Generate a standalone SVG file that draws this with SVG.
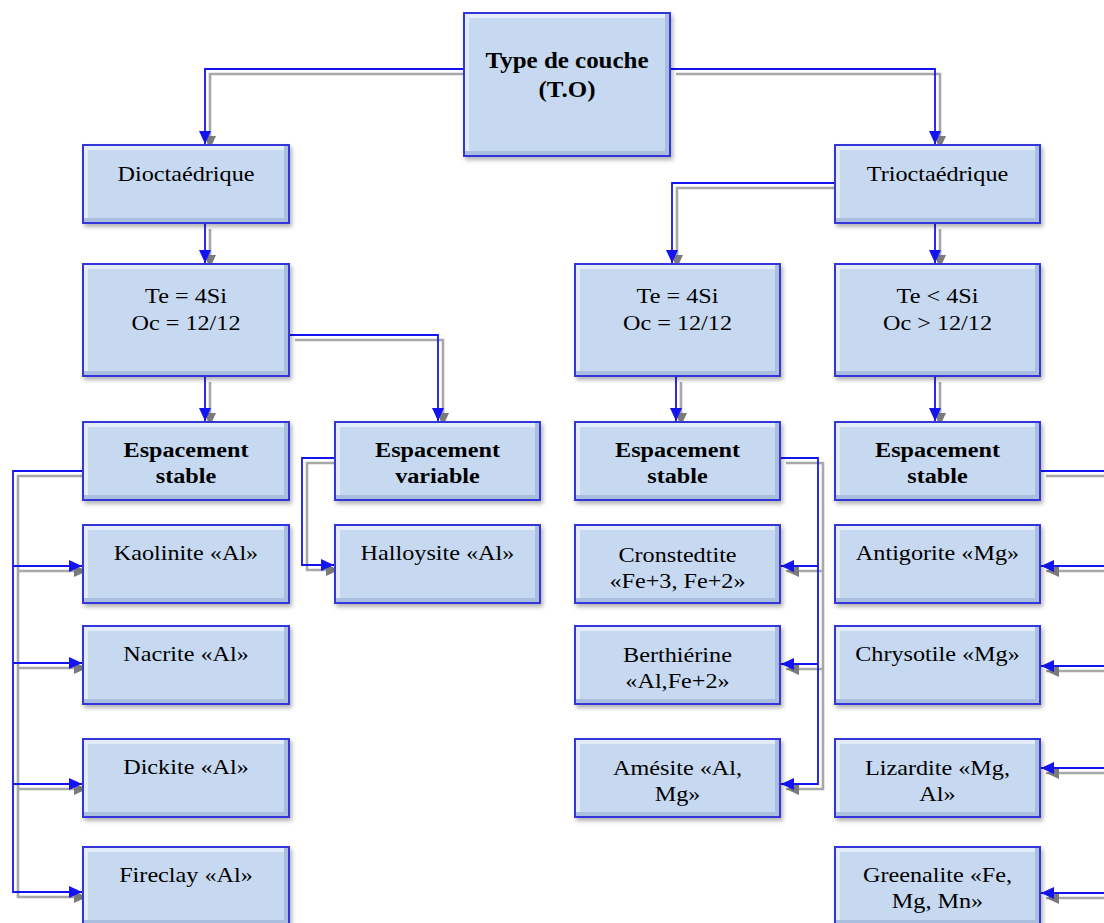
<svg xmlns="http://www.w3.org/2000/svg" xmlns:xlink="http://www.w3.org/1999/xlink" width="1104" height="923" viewBox="0 0 1104 923">
  <defs>
    <style>
      .box { fill: #c6d9f1; filter: url(#bevel); }
      .lbl { font-family: "Liberation Serif", "Times New Roman", serif; font-size: 22px; fill: #000; text-anchor: middle;
             transform-box: fill-box; transform-origin: center; transform: scaleX(1.1); }
      .b { font-weight: bold; }
      .big { font-size: 24px; transform: scaleX(1.04); }
      .wire { fill: none; stroke: #1414f0; stroke-width: 1.8; }
      .wire.tip { marker-end: url(#arrowBlue); }
      .shade { fill: none; stroke: #a8a8a8; stroke-width: 2.6; }
      .shade.tip { marker-end: url(#arrowGray); }
    </style>
    <marker id="arrowBlue" markerUnits="userSpaceOnUse" markerWidth="14" markerHeight="14" refX="13" refY="7" orient="auto">
      <path d="M0,1 L13,7 L0,13 Z" fill="#1414f0"/>
    </marker>
    <marker id="arrowGray" markerUnits="userSpaceOnUse" markerWidth="14" markerHeight="14" refX="13" refY="7" orient="auto">
      <path d="M0,1 L13,7 L0,13 Z" fill="#7a7a7a"/>
    </marker>
    <!-- bevelled face: light top/left edge, dark bottom/right edge, blue frame, soft drop shadow -->
    <filter id="bevel" x="-0.06" y="-0.08" width="1.14" height="1.2" color-interpolation-filters="sRGB">
      <feGaussianBlur in="SourceAlpha" stdDeviation="2.2" result="blur"/>
      <feOffset in="blur" dx="2" dy="3" result="sh"/>
      <feFlood flood-color="#000" flood-opacity="0.3"/>
      <feComposite in2="sh" operator="in" result="shadow"/>
      <feOffset in="SourceAlpha" dx="-6" dy="-6" result="ul"/>
      <feComposite in="SourceAlpha" in2="ul" operator="out" result="brEdge"/>
      <feFlood flood-color="#a9bfdd"/>
      <feComposite in2="brEdge" operator="in" result="dark"/>
      <feOffset in="SourceAlpha" dx="6" dy="6" result="dr"/>
      <feComposite in="SourceAlpha" in2="dr" operator="out" result="tlEdge"/>
      <feFlood flood-color="#e3ecf9"/>
      <feComposite in2="tlEdge" operator="in" result="light"/>
      <feMorphology in="SourceAlpha" operator="erode" radius="2" result="inner"/>
      <feComposite in="SourceAlpha" in2="inner" operator="out" result="ring"/>
      <feFlood flood-color="#3535dc"/>
      <feComposite in2="ring" operator="in" result="frame"/>
      <feMerge>
        <feMergeNode in="shadow"/>
        <feMergeNode in="SourceGraphic"/>
        <feMergeNode in="light"/>
        <feMergeNode in="dark"/>
        <feMergeNode in="frame"/>
      </feMerge>
    </filter>
    <!-- connector routes, drawn twice: grey offset shadow, then blue line -->
    <path id="w1" d="M463,69 H205 V144"/>
    <path id="w2" d="M671,69 H935 V144"/>
    <path id="w3" d="M205,224 V263"/>
    <path id="w4" d="M205,377 V421"/>
    <path id="w5" d="M290,335 H438 V421"/>
    <path id="w6" d="M834,183 H672 V263"/>
    <path id="w7" d="M935,224 V263"/>
    <path id="w8" d="M676,377 V421"/>
    <path id="w9" d="M935,377 V421"/>
    <path id="w10" d="M82,471 H13 V892 H82"/>
    <path id="w11" d="M13,566 H82"/>
    <path id="w12" d="M13,663 H82"/>
    <path id="w13" d="M13,784 H82"/>
    <path id="w14" d="M334,458 H302 V565 H334"/>
    <path id="w15" d="M781,458 H818 V784 H781"/>
    <path id="w16" d="M818,566 H781"/>
    <path id="w17" d="M818,664 H781"/>
    <path id="w18" d="M1041,471 H1110"/>
    <path id="w19" d="M1110,566 H1041"/>
    <path id="w20" d="M1110,666 H1041"/>
    <path id="w21" d="M1110,768 H1041"/>
    <path id="w22" d="M1110,893 H1041"/>
  </defs>

  <rect width="1104" height="923" fill="#fff"/>

  <g id="connectors">
    <g transform="translate(5,5)">
      <use class="shade tip" href="#w1"/>
      <use class="shade tip" href="#w2"/>
      <use class="shade tip" href="#w3"/>
      <use class="shade tip" href="#w4"/>
      <use class="shade tip" href="#w5"/>
      <use class="shade tip" href="#w6"/>
      <use class="shade tip" href="#w7"/>
      <use class="shade tip" href="#w8"/>
      <use class="shade tip" href="#w9"/>
      <use class="shade tip" href="#w10"/>
      <use class="shade tip" href="#w11"/>
      <use class="shade tip" href="#w12"/>
      <use class="shade tip" href="#w13"/>
      <use class="shade tip" href="#w14"/>
      <use class="shade tip" href="#w15"/>
      <use class="shade tip" href="#w16"/>
      <use class="shade tip" href="#w17"/>
      <use class="shade" href="#w18"/>
      <use class="shade tip" href="#w19"/>
      <use class="shade tip" href="#w20"/>
      <use class="shade tip" href="#w21"/>
      <use class="shade tip" href="#w22"/>
    </g>
    <g>
      <use class="wire tip" href="#w1"/>
      <use class="wire tip" href="#w2"/>
      <use class="wire tip" href="#w3"/>
      <use class="wire tip" href="#w4"/>
      <use class="wire tip" href="#w5"/>
      <use class="wire tip" href="#w6"/>
      <use class="wire tip" href="#w7"/>
      <use class="wire tip" href="#w8"/>
      <use class="wire tip" href="#w9"/>
      <use class="wire tip" href="#w10"/>
      <use class="wire tip" href="#w11"/>
      <use class="wire tip" href="#w12"/>
      <use class="wire tip" href="#w13"/>
      <use class="wire tip" href="#w14"/>
      <use class="wire tip" href="#w15"/>
      <use class="wire tip" href="#w16"/>
      <use class="wire tip" href="#w17"/>
      <use class="wire" href="#w18"/>
      <use class="wire tip" href="#w19"/>
      <use class="wire tip" href="#w20"/>
      <use class="wire tip" href="#w21"/>
      <use class="wire tip" href="#w22"/>
    </g>
  </g>

  <g id="type-couche">
    <rect class="box" x="463" y="12" width="208" height="145"/>
    <text class="lbl b big" x="567" y="68">Type de couche</text>
    <text class="lbl b big" x="567" y="97">(T.O)</text>
  </g>
  <g id="dioctaedrique">
    <rect class="box" x="82" y="144" width="208" height="80"/>
    <text class="lbl" x="186" y="181">Dioctaédrique</text>
  </g>
  <g id="trioctaedrique">
    <rect class="box" x="834" y="144" width="207" height="80"/>
    <text class="lbl" x="937.5" y="181">Trioctaédrique</text>
  </g>
  <g id="di-te4si">
    <rect class="box" x="82" y="263" width="208" height="114"/>
    <text class="lbl" x="186" y="303">Te = 4Si</text>
    <text class="lbl" x="186" y="330">Oc = 12/12</text>
  </g>
  <g id="tri-te4si">
    <rect class="box" x="574" y="263" width="207" height="114"/>
    <text class="lbl" x="677.5" y="303">Te = 4Si</text>
    <text class="lbl" x="677.5" y="330">Oc = 12/12</text>
  </g>
  <g id="tri-telt4si">
    <rect class="box" x="834" y="263" width="207" height="114"/>
    <text class="lbl" x="937.5" y="303">Te &lt; 4Si</text>
    <text class="lbl" x="937.5" y="330">Oc &gt; 12/12</text>
  </g>
  <g id="di-stable">
    <rect class="box" x="82" y="421" width="208" height="80"/>
    <text class="lbl b" x="186" y="457">Espacement</text>
    <text class="lbl b" x="186" y="483">stable</text>
  </g>
  <g id="di-variable">
    <rect class="box" x="334" y="421" width="207" height="80"/>
    <text class="lbl b" x="437.5" y="457">Espacement</text>
    <text class="lbl b" x="437.5" y="483">variable</text>
  </g>
  <g id="tri-stable-a">
    <rect class="box" x="574" y="421" width="207" height="80"/>
    <text class="lbl b" x="677.5" y="457">Espacement</text>
    <text class="lbl b" x="677.5" y="483">stable</text>
  </g>
  <g id="tri-stable-b">
    <rect class="box" x="834" y="421" width="207" height="80"/>
    <text class="lbl b" x="937.5" y="457">Espacement</text>
    <text class="lbl b" x="937.5" y="483">stable</text>
  </g>
  <g id="kaolinite">
    <rect class="box" x="82" y="524" width="208" height="80"/>
    <text class="lbl" x="186" y="560">Kaolinite «Al»</text>
  </g>
  <g id="halloysite">
    <rect class="box" x="334" y="524" width="207" height="80"/>
    <text class="lbl" x="437.5" y="560">Halloysite «Al»</text>
  </g>
  <g id="cronstedtite">
    <rect class="box" x="574" y="524" width="207" height="80"/>
    <text class="lbl" x="677.5" y="562">Cronstedtite</text>
    <text class="lbl" x="677.5" y="588">«Fe+3, Fe+2»</text>
  </g>
  <g id="antigorite">
    <rect class="box" x="834" y="524" width="207" height="80"/>
    <text class="lbl" x="937.5" y="560">Antigorite «Mg»</text>
  </g>
  <g id="nacrite">
    <rect class="box" x="82" y="625" width="208" height="80"/>
    <text class="lbl" x="186" y="661">Nacrite «Al»</text>
  </g>
  <g id="berthierine">
    <rect class="box" x="574" y="625" width="207" height="80"/>
    <text class="lbl" x="677.5" y="662">Berthiérine</text>
    <text class="lbl" x="677.5" y="688">«Al,Fe+2»</text>
  </g>
  <g id="chrysotile">
    <rect class="box" x="834" y="625" width="207" height="80"/>
    <text class="lbl" x="937.5" y="661">Chrysotile «Mg»</text>
  </g>
  <g id="dickite">
    <rect class="box" x="82" y="738" width="208" height="80"/>
    <text class="lbl" x="186" y="774">Dickite «Al»</text>
  </g>
  <g id="amesite">
    <rect class="box" x="574" y="738" width="207" height="80"/>
    <text class="lbl" x="677.5" y="775">Amésite «Al,</text>
    <text class="lbl" x="677.5" y="801">Mg»</text>
  </g>
  <g id="lizardite">
    <rect class="box" x="834" y="738" width="207" height="80"/>
    <text class="lbl" x="937.5" y="775">Lizardite «Mg,</text>
    <text class="lbl" x="937.5" y="801">Al»</text>
  </g>
  <g id="fireclay">
    <rect class="box" x="82" y="846" width="208" height="80"/>
    <text class="lbl" x="186" y="882">Fireclay «Al»</text>
  </g>
  <g id="greenalite">
    <rect class="box" x="834" y="846" width="207" height="80"/>
    <text class="lbl" x="937.5" y="882">Greenalite «Fe,</text>
    <text class="lbl" x="937.5" y="908">Mg, Mn»</text>
  </g>
</svg>
